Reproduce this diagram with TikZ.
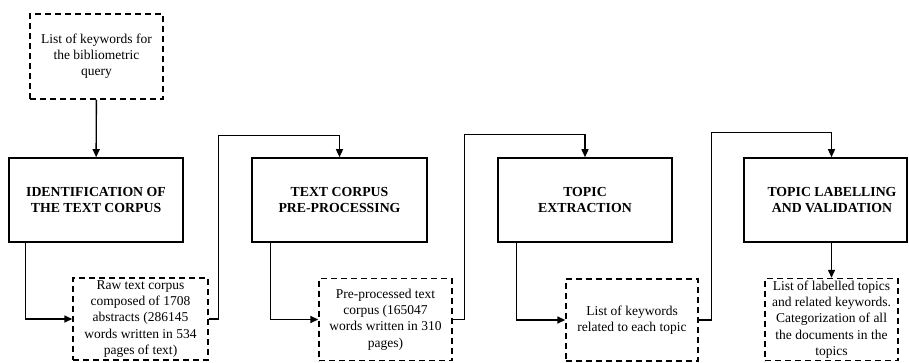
\documentclass[tikz,border=0pt]{standalone}
\usepackage{fontspec}
\setmainfont{Liberation Serif}
\usetikzlibrary{arrows.meta, positioning}

\begin{document}
\begin{tikzpicture}[x=1pt, y=-1pt,
    stage/.style={draw, line width=1.6pt, minimum width=174pt, minimum height=84pt, inner sep=0pt, align=center, font=\fontsize{13.8}{16}\selectfont\bfseries},
    output/.style={draw, dash pattern=on 6pt off 4pt, line width=1.4pt, minimum width=133pt, minimum height=82pt, inner sep=0pt, align=center, font=\fontsize{13.5}{16.2}\selectfont},
    flow/.style={-{Triangle[length=8pt, width=7pt]}, line width=1.4pt}]
    \useasboundingbox (0,0) rectangle (909,362);

    % Requete
    \node[output, minimum height=85pt] (query) at (96.5,56.5) {List of keywords for\\the bibliometric\\query};

    % === ETAPES ===
    \node[stage] (ident) at (96,200) {IDENTIFICATION OF\\THE TEXT CORPUS};
    \node[stage, minimum width=175pt] (prep) at (339.5,200) {TEXT CORPUS\\PRE-PROCESSING};
    \node[stage] (extract) at (585,200) {TOPIC\\EXTRACTION};
    \node[stage, minimum width=163pt] (label) at (825.5,200) {};
    \node[font=\fontsize{13.8}{16}\selectfont\bfseries, align=center] (labeltext) at (832,200) {TOPIC LABELLING\\AND VALIDATION};

    % === RESULTATS ===
    \node[output, minimum width=135pt] (raw) at (140.5,319) {Raw text corpus\\composed of 1708\\abstracts (286145\\words written in 534\\pages of text)};
    \node[output] (clean) at (385.5,319.5) {Pre-processed text\\corpus (165047\\words written in 310\\pages)};
    \node[output, minimum width=132pt] (keys) at (632,320) {List of keywords\\related to each topic};
    \node[output] (topics) at (831.5,319.5) {List of labelled topics\\and related keywords.\\Categorization of all\\the documents in the\\topics};

    % Fleches
    \draw[flow] (query) -- (ident);
    \draw[flow] ([xshift=17pt]ident.south west) |- (raw.west);
    \draw[flow] (raw.east) -- ++(10,0) |- ([yshift=22pt]prep.north) -- (prep.north);
    \draw[flow] ([xshift=19pt]prep.south west) |- (clean.west);
    \draw[flow] (clean.east) -- ++(12,0) |- ([yshift=23pt]extract.north) -- (extract.north);
    \draw[flow] ([xshift=19pt]extract.south west) |- (keys.west);
    \draw[flow] (keys.east) -- ++(13,0) |- ([yshift=25pt]topics.north |- label.north) -- (topics.north |- label.north);
    \draw[flow] (topics.north |- label.south) -- (topics.north);
\end{tikzpicture}
\end{document}
